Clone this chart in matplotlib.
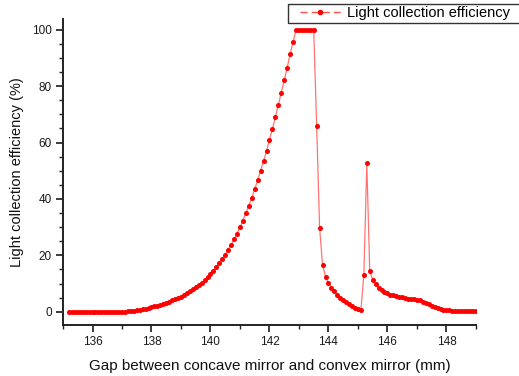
import matplotlib
matplotlib.use("Agg")
import matplotlib.pyplot as plt
from matplotlib.patches import Rectangle
from matplotlib.ticker import MultipleLocator

# gap between concave and convex mirror (mm), sampled every 0.1 mm
gap_mm = [
    135.2, 135.3, 135.4, 135.5, 135.6, 135.7, 135.8, 135.9, 136.0, 136.1,
    136.2, 136.3, 136.4, 136.5, 136.6, 136.7, 136.8, 136.9, 137.0, 137.1,
    137.2, 137.3, 137.4, 137.5, 137.6, 137.7, 137.8, 137.9, 138.0, 138.1,
    138.2, 138.3, 138.4, 138.5, 138.6, 138.7, 138.8, 138.9, 139.0, 139.1,
    139.2, 139.3, 139.4, 139.5, 139.6, 139.7, 139.8, 139.9, 140.0, 140.1,
    140.2, 140.3, 140.4, 140.5, 140.6, 140.7, 140.8, 140.9, 141.0, 141.1,
    141.2, 141.3, 141.4, 141.5, 141.6, 141.7, 141.8, 141.9, 142.0, 142.1,
    142.2, 142.3, 142.4, 142.5, 142.6, 142.7, 142.8, 142.9, 143.0, 143.1,
    143.2, 143.3, 143.4, 143.5, 143.6, 143.7, 143.8, 143.9, 144.0, 144.1,
    144.2, 144.3, 144.4, 144.5, 144.6, 144.7, 144.8, 144.9, 145.0, 145.1,
    145.2, 145.3, 145.4, 145.5, 145.6, 145.7, 145.8, 145.9, 146.0, 146.1,
    146.2, 146.3, 146.4, 146.5, 146.6, 146.7, 146.8, 146.9, 147.0, 147.1,
    147.2, 147.3, 147.4, 147.5, 147.6, 147.7, 147.8, 147.9, 148.0, 148.1,
    148.2, 148.3, 148.4, 148.5, 148.6, 148.7, 148.8, 148.9, 149.0,
]

# light collection efficiency (%)
efficiency = [
    0, 0, 0, 0, 0, 0, 0, 0, 0, 0,
    0, 0, 0, 0, 0, 0, 0, 0, 0, 0,
    0.1, 0.2, 0.35, 0.55, 0.75, 0.95, 1.15, 1.4, 1.65, 1.9,
    2.2, 2.5, 2.85, 3.2, 3.6, 4.0, 4.45, 4.9, 5.4, 5.95,
    6.55, 7.2, 7.9, 8.65, 9.45, 10.3, 11.2, 12.2, 13.3, 14.5,
    15.8, 17.2, 18.7, 20.3, 22.0, 23.8, 25.7, 27.7, 29.9, 32.3,
    34.9, 37.6, 40.4, 43.5, 46.7, 50.0, 53.4, 57.0, 60.9, 64.8,
    69.0, 73.3, 77.7, 82.2, 86.5, 91.3, 95.7, 100, 100, 100,
    100, 100, 100, 100, 66.0, 29.8, 16.5, 12.5, 10.2, 8.6,
    7.2, 6.0, 5.0, 4.1, 3.3, 2.6, 2.0, 1.5, 1.0, 0.6,
    13.0, 52.6, 14.5, 11.4, 9.7, 8.5, 7.7, 7.0, 6.5, 6.1,
    5.8, 5.55, 5.3, 5.1, 4.9, 4.7, 4.55, 4.4, 4.25, 4.05,
    3.6, 3.1, 2.6, 2.15, 1.75, 1.35, 1.05, 0.8, 0.6, 0.45,
    0.35, 0.3, 0.25, 0.25, 0.25, 0.25, 0.25, 0.25, 0.25,
]

plt.rcParams["font.family"] = ["Liberation Sans", "DejaVu Sans"]

W, H = 519, 376
fig = plt.figure(figsize=(W / 100, H / 100), dpi=100)
ax = fig.add_axes([0.1214, 0.1356, 0.7956, 0.8131])

# line drawn lighter than the symbols, like the original plot
ax.plot(gap_mm, efficiency, color="#ff0000", lw=0.9, alpha=0.55, zorder=2)
ax.plot(gap_mm, efficiency, ls="none", marker="o", ms=2.6,
        color="#ff0000", mec="#ff0000", zorder=3)

# proxy handle for the legend: line - symbol - line
handle, = ax.plot([], [], color="#ff5050", lw=1.0, ls=(0, (5, 3)),
                  marker="o", ms=3, mfc="#ff0000", mec="#ff0000")

ax.set_xlim(135.0, 149.0)
ax.set_ylim(-4.7, 103.7)

ax.xaxis.set_major_locator(MultipleLocator(2))
ax.xaxis.set_minor_locator(MultipleLocator(1))
ax.yaxis.set_major_locator(MultipleLocator(20))
ax.yaxis.set_minor_locator(MultipleLocator(5))

for side in ["top", "right"]:
    ax.spines[side].set_visible(False)
for side in ["left", "bottom"]:
    ax.spines[side].set_linewidth(1.4)
    ax.spines[side].set_color("#222222")

ax.tick_params(which="major", direction="out", length=5, width=1.2,
               labelsize=8.5, colors="#1a1a1a", pad=3)
ax.tick_params(which="minor", direction="out", length=3, width=1.0,
               colors="#222222")

ax.set_xlabel("Gap between concave mirror and convex mirror (mm)",
              fontsize=11, color="#111111", labelpad=8)
ax.set_ylabel("Light collection efficiency (%)", fontsize=10.5,
              color="#111111", labelpad=6)

# legend box runs off the right edge of the figure
fig.patches.append(Rectangle((288 / W, 1 - 23 / H), 260 / W, 19 / H,
                             transform=fig.transFigure, fill=False,
                             edgecolor="#333333", lw=1.0))
leg = fig.legend([handle], ["Light collection efficiency"],
                 loc="center left", bbox_to_anchor=(300 / W, 1 - 13.5 / H),
                 fontsize=10.5, frameon=False,
                 handlelength=2.8, borderpad=0, handletextpad=0.4,
                 borderaxespad=0)

fig.savefig("out.png", dpi=100)
